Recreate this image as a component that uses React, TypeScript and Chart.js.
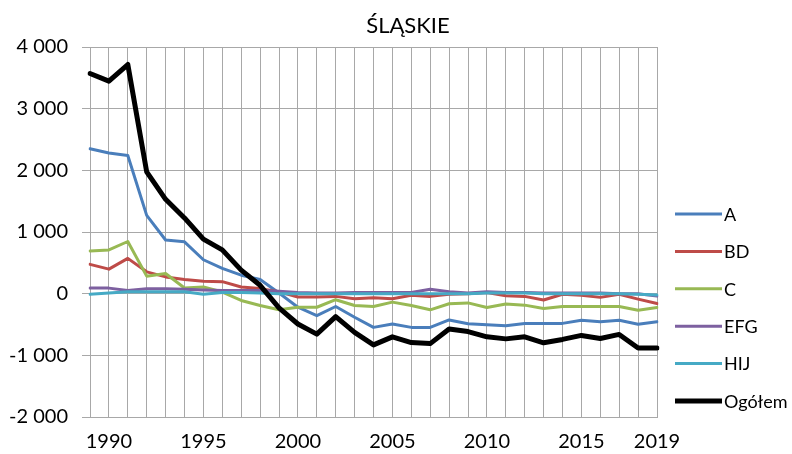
import React, { useEffect, useRef } from 'react';
import { Chart, registerables } from 'chart.js';

Chart.register(...registerables);

const chartTitle = 'ŚLĄSKIE';

const years = [
  '1989', '1990', '1991', '1992', '1993', '1994', '1995', '1996', '1997', '1998',
  '1999', '2000', '2001', '2002', '2003', '2004', '2005', '2006', '2007', '2008',
  '2009', '2010', '2011', '2012', '2013', '2014', '2015', '2016', '2017', '2018', '2019',
];

const shownYears = ['1990', '1995', '2000', '2005', '2010', '2015', '2019'];

const yTickValues = [-2000, -1000, 0, 1000, 2000, 3000, 4000];

const seriesA = [
  2350, 2280, 2240, 1270, 870, 840, 550, 410, 300, 230,
  10, -220, -356, -208, -383, -547, -492, -547, -547, -426,
  -487, -503, -519, -482, -482, -482, -432, -454, -432, -497, -454,
];

const seriesBD = [
  475, 398, 572, 354, 272, 230, 202, 195, 108, 82,
  30, -55, -55, -44, -82, -66, -82, -27, -44, -10,
  0, 20, -33, -44, -103, -10, -27, -60, -10, -88, -160,
];

const seriesC = [
  693, 710, 846, 284, 328, 92, 108, 26, -110, -192,
  -260, -220, -220, -98, -192, -208, -137, -192, -262, -164,
  -150, -225, -169, -186, -240, -207, -207, -207, -207, -268, -225,
];

const seriesEFG = [
  90, 90, 50, 80, 80, 70, 60, 50, 50, 50,
  40, 20, 10, 10, 20, 20, 20, 20, 70, 30,
  10, 30, 20, 20, 10, 10, 10, 10, 0, 0, -40,
];

const seriesHIJ = [
  -10, 10, 30, 30, 30, 30, -10, 20, 20, 10,
  0, 0, 0, 0, 0, 0, 0, 0, 0, 0,
  0, 10, 10, 10, 0, 0, 0, 0, 0, -10, -20,
];

const seriesTotal = [
  3570, 3446, 3716, 1976, 1530, 1228, 885, 710, 382, 136,
  -230, -492, -656, -372, -629, -831, -700, -793, -810, -574,
  -615, -700, -733, -700, -797, -742, -677, -727, -661, -880, -880,
];

const seriesNames = ['A', 'BD', 'C', 'EFG', 'HIJ', 'Ogółem'];
const seriesValues = [seriesA, seriesBD, seriesC, seriesEFG, seriesHIJ, seriesTotal];
const seriesColors = ['#4A7EBB', '#BE4B48', '#98B954', '#7D60A0', '#46AAC5', '#000000'];
const seriesWidths = [3, 3, 3, 3, 3, 5];

const FONT = "Lato, 'Open Sans', sans-serif";
const GRID = '#a8a8a8';

function fmt(v: number): string {
  const s = Math.abs(v).toString().replace(/\B(?=(\d{3})+(?!\d))/g, ' ');
  return (v < 0 ? '-' : '') + s;
}

const overlayPlugin = {
  id: 'overlay',
  afterDraw(chart: any) {
    const ctx = chart.ctx as CanvasRenderingContext2D;
    const area = chart.chartArea;
    ctx.save();
    // title
    ctx.fillStyle = '#000';
    ctx.font = `22px ${FONT}`;
    ctx.textAlign = 'center';
    ctx.textBaseline = 'alphabetic';
    ctx.fillText(chartTitle, 408, 33);
    // legend
    const x0 = area.right + 18;
    const x1 = x0 + 47;
    chart.data.datasets.forEach((ds: any, i: number) => {
      const y = 214 + i * 37.4;
      ctx.strokeStyle = ds.borderColor;
      ctx.lineWidth = ds.borderWidth;
      ctx.lineCap = 'butt';
      ctx.beginPath();
      ctx.moveTo(x0, y);
      ctx.lineTo(x1, y);
      ctx.stroke();
      ctx.fillStyle = '#000';
      ctx.font = `18px ${FONT}`;
      ctx.textAlign = 'left';
      ctx.textBaseline = 'middle';
      ctx.fillText(ds.label, x1 + 2, y + 1);
    });
    ctx.restore();
  },
};

export default function App() {
  const ref = useRef<HTMLCanvasElement | null>(null);

  useEffect(() => {
    if (!ref.current) return;
    const chart = new Chart(ref.current, {
      type: 'line',
      data: {
        labels: years,
        datasets: seriesNames.map((name, i) => ({
          label: name,
          data: seriesValues[i],
          borderColor: seriesColors[i],
          backgroundColor: seriesColors[i],
          borderWidth: seriesWidths[i],
          pointRadius: 0,
          pointHoverRadius: 0,
          tension: 0,
          fill: false,
          borderJoinStyle: 'round',
          borderCapStyle: 'round',
          order: seriesNames.length - i,
        })),
      },
      options: {
        responsive: false,
        animation: false,
        events: [],
        layout: { padding: { left: 0, right: 135, top: 47, bottom: 0 } },
        plugins: {
          legend: { display: false },
          title: { display: false },
          tooltip: { enabled: false },
        },
        scales: {
          x: {
            type: 'category',
            offset: false,
            grid: { color: GRID, lineWidth: 1, drawTicks: false, offset: false },
            border: { color: GRID, width: 1 },
            afterFit: (s: any) => {
              s.height = 37;
            },
            ticks: {
              autoSkip: false,
              maxRotation: 0,
              minRotation: 0,
              padding: 15,
              color: '#000',
              font: { family: FONT, size: 20, lineHeight: 1 },
              callback: (_v: any, i: number) => (shownYears.includes(years[i]) ? years[i] : ''),
            },
          },
          y: {
            min: -2000,
            max: 4000,
            afterBuildTicks: (s: any) => {
              s.ticks = yTickValues.map((v) => ({ value: v }));
            },
            afterFit: (s: any) => {
              s.width = 90;
            },
            grid: { color: GRID, lineWidth: 1, drawTicks: true, tickLength: 8 },
            border: { color: GRID, width: 1 },
            ticks: {
              padding: 14,
              color: '#000',
              font: { family: FONT, size: 20 },
              callback: (v: any) => fmt(Number(v)),
            },
          },
        },
      },
      plugins: [overlayPlugin],
    } as any);
    return () => chart.destroy();
  }, []);

  return (
    <div style={{ position: 'fixed', left: 0, top: 0, width: 792, height: 454, background: '#fff' }}>
      <canvas ref={ref} width={792} height={454} style={{ display: 'block', width: 792, height: 454 }} />
    </div>
  );
}
